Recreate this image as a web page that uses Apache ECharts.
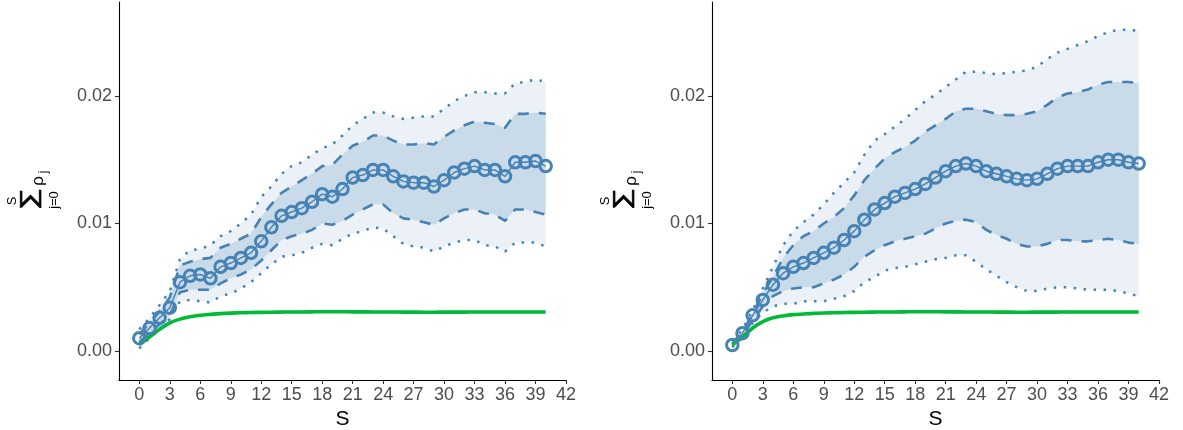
<!DOCTYPE html>
<html>
<head>
<meta charset="utf-8">
<script src="https://cdn.jsdelivr.net/npm/echarts@6/dist/echarts.min.js"></script>
<style>
html,body{margin:0;padding:0;background:#fff;}
#chart{width:1183px;height:430px;}
</style>
</head>
<body>
<div id="chart"></div>
<script>
// ---- data ----
const steps = [0,1,2,3,4,5,6,7,8,9,10,11,12,13,14,15,16,17,18,19,20,21,22,23,24,25,26,27,28,29,30,31,32,33,34,35,36,37,38,39,40];
const xTicks = [0,3,6,9,12,15,18,21,24,27,30,33,36,39,42];
const yTicks = [0,0.01,0.02];

// left panel
const leftMean = [0.0010,0.0018,0.0026,0.0034,0.0054,0.0059,0.0060,0.0057,0.0066,0.0069,0.0073,0.0077,0.0086,0.0097,0.0106,0.0109,0.0112,0.0117,0.0123,0.0121,0.0127,0.0136,0.0138,0.0142,0.0142,0.0137,0.0133,0.0132,0.0132,0.0129,0.0134,0.0140,0.0143,0.0145,0.0142,0.0142,0.0137,0.0148,0.0148,0.0149,0.0145];
const leftOuterHi = [0.0017,0.0026,0.0036,0.0047,0.0072,0.0079,0.0080,0.0083,0.0090,0.0094,0.0100,0.0107,0.0121,0.0129,0.0139,0.0145,0.0148,0.0154,0.0159,0.0162,0.0169,0.0177,0.0182,0.0187,0.0187,0.0184,0.0182,0.0183,0.0184,0.0184,0.0190,0.0196,0.0200,0.0203,0.0203,0.0202,0.0202,0.0210,0.0211,0.0213,0.0211];
const leftInnerHi = [0.0013,0.0022,0.0031,0.0042,0.0067,0.0070,0.0072,0.0073,0.0081,0.0084,0.0088,0.0092,0.0105,0.0115,0.0124,0.0129,0.0134,0.0139,0.0145,0.0146,0.0154,0.0161,0.0164,0.0169,0.0169,0.0165,0.0162,0.0162,0.0163,0.0162,0.0168,0.0173,0.0177,0.0180,0.0179,0.0178,0.0175,0.0186,0.0186,0.0187,0.0186];
const leftInnerLo = [0.0007,0.0014,0.0021,0.0028,0.0046,0.0048,0.0048,0.0048,0.0053,0.0057,0.0060,0.0064,0.0071,0.0079,0.0087,0.0090,0.0092,0.0095,0.0100,0.0099,0.0102,0.0107,0.0111,0.0115,0.0115,0.0108,0.0104,0.0103,0.0101,0.0099,0.0104,0.0108,0.0111,0.0111,0.0108,0.0107,0.0102,0.0111,0.0111,0.0109,0.0107];
const leftOuterLo = [0.0002,0.0010,0.0017,0.0025,0.0039,0.0040,0.0039,0.0038,0.0043,0.0045,0.0049,0.0054,0.0061,0.0068,0.0074,0.0075,0.0077,0.0081,0.0084,0.0083,0.0088,0.0092,0.0094,0.0097,0.0096,0.0090,0.0084,0.0082,0.0081,0.0078,0.0082,0.0085,0.0087,0.0087,0.0083,0.0082,0.0078,0.0085,0.0085,0.0085,0.0082];
const leftGreen = [0.0005,0.0011,0.0017,0.0022,0.0025,0.00268,0.0028,0.00287,0.00293,0.00297,0.0030,0.00302,0.00303,0.00304,0.00305,0.00306,0.00306,0.00307,0.00308,0.00308,0.00308,0.00307,0.00307,0.00306,0.00306,0.00306,0.00305,0.00305,0.00304,0.00304,0.00305,0.00305,0.00305,0.00306,0.00306,0.00306,0.00306,0.00306,0.00306,0.00306,0.00306];

// right panel
const rightMean = [0.00047,0.0014,0.0028,0.0040,0.0052,0.0061,0.0066,0.0069,0.0073,0.0077,0.0081,0.0087,0.0094,0.0103,0.0111,0.0116,0.0121,0.0124,0.0127,0.0131,0.0136,0.0141,0.0145,0.0147,0.0145,0.0141,0.0139,0.0137,0.0135,0.0134,0.0135,0.0139,0.0143,0.0145,0.0145,0.0145,0.0148,0.0150,0.0150,0.0148,0.0147];
const rightOuterHi = [0.0008,0.0017,0.0032,0.0049,0.0066,0.0083,0.0094,0.0101,0.0107,0.0115,0.0124,0.0132,0.0140,0.0154,0.0165,0.0170,0.0176,0.0182,0.0189,0.0196,0.0201,0.0207,0.0213,0.0219,0.0219,0.0218,0.0217,0.0218,0.0219,0.0220,0.0223,0.0229,0.0234,0.0237,0.0240,0.0243,0.0247,0.0250,0.0252,0.0252,0.0251];
const rightInnerHi = [0.0006,0.0015,0.0029,0.0045,0.0058,0.0073,0.0083,0.0090,0.0094,0.0100,0.0105,0.0112,0.0122,0.0134,0.0143,0.0151,0.0156,0.0160,0.0165,0.0172,0.0177,0.0182,0.0188,0.0190,0.0190,0.0188,0.0186,0.0185,0.0185,0.0186,0.0188,0.0193,0.0199,0.0202,0.0203,0.0205,0.0209,0.0211,0.0211,0.0211,0.0210];
const rightInnerLo = [0.0004,0.0012,0.0024,0.0035,0.0043,0.0047,0.0049,0.0050,0.0050,0.0053,0.0056,0.0060,0.0066,0.0074,0.0079,0.0083,0.0086,0.0088,0.0090,0.0092,0.0096,0.0100,0.0102,0.0103,0.0101,0.0095,0.0091,0.0088,0.0084,0.0082,0.0082,0.0084,0.0087,0.0087,0.0086,0.0086,0.0087,0.0088,0.0087,0.0085,0.0084];
const rightOuterLo = [0.0003,0.0010,0.0022,0.0030,0.0035,0.0037,0.0037,0.0039,0.0039,0.0039,0.0041,0.0043,0.0047,0.0054,0.0058,0.0063,0.0065,0.0066,0.0068,0.0070,0.0072,0.0073,0.0075,0.0075,0.0070,0.0064,0.0059,0.0054,0.0050,0.0047,0.0047,0.0049,0.0050,0.0050,0.0049,0.0048,0.0048,0.0048,0.0047,0.0045,0.0043];
const rightGreen = [0.0005,0.0011,0.0018,0.0023,0.0026,0.00275,0.00285,0.0029,0.00295,0.00298,0.0030,0.00302,0.00303,0.00304,0.00305,0.00306,0.00306,0.00307,0.00308,0.00308,0.00308,0.00307,0.00307,0.00306,0.00306,0.00306,0.00305,0.00305,0.00304,0.00304,0.00305,0.00305,0.00305,0.00306,0.00306,0.00306,0.00306,0.00306,0.00306,0.00306,0.00306];

// ---- styling ----
const BLUE = '#4682B4';
const OUTER_FILL = '#EBF1F7';
const INNER_FILL = '#C9DAE8';
const GREEN = '#00BA38';
const FONT = 'Liberation Sans';

function pairs(arr) { return steps.map((s, i) => [s, arr[i]]); }

function bandSeries(idx, lo, hi, fill) {
  return {
    type: 'custom', xAxisIndex: idx, yAxisIndex: idx, silent: true,
    data: steps.map((s, i) => [s, lo[i], hi[i]]),
    encode: { x: 0, y: [1, 2] },
    renderItem: function (params, api) {
      if (params.dataIndex !== 0) return null;
      const top = steps.map((s, i) => api.coord([s, hi[i]]));
      const bot = steps.map((s, i) => api.coord([s, lo[i]])).reverse();
      return { type: 'polygon', shape: { points: top.concat(bot) }, style: { fill: fill, stroke: null } };
    }
  };
}

function panelSeries(idx, mean, oHi, iHi, iLo, oLo, green) {
  const base = { type: 'line', xAxisIndex: idx, yAxisIndex: idx, symbol: 'none', silent: true };
  return [
    bandSeries(idx, oLo, oHi, OUTER_FILL),
    bandSeries(idx, iLo, iHi, INNER_FILL),
    Object.assign({}, base, { data: pairs(oHi), lineStyle: { color: BLUE, width: 2.5, type: [2.5, 7.5] } }),
    Object.assign({}, base, { data: pairs(oLo), lineStyle: { color: BLUE, width: 2.5, type: [2.5, 7.5] } }),
    Object.assign({}, base, { data: pairs(iHi), lineStyle: { color: BLUE, width: 2.6, type: [11, 10] } }),
    Object.assign({}, base, { data: pairs(iLo), lineStyle: { color: BLUE, width: 2.6, type: [11, 10] } }),
    Object.assign({}, base, { data: pairs(mean), symbol: 'circle', symbolSize: 11.5, showSymbol: true,
      lineStyle: { color: BLUE, width: 1.4 },
      itemStyle: { color: 'rgba(0,0,0,0)', borderColor: BLUE, borderWidth: 3 } }),
    Object.assign({}, base, { data: pairs(green), smooth: 0.3, lineStyle: { color: GREEN, width: 3.6 } })
  ];
}

function xAxisCfg(idx) {
  return {
    type: 'value', gridIndex: idx, min: -2, max: 42,
    name: 'S', nameLocation: 'middle', nameGap: 25,
    nameTextStyle: { color: '#000', fontSize: 21, fontFamily: FONT },
    axisLine: { show: true, onZero: false, lineStyle: { color: '#000', width: 1.1 } },
    axisTick: { show: true, length: 4, customValues: xTicks, lineStyle: { color: '#333', width: 1.1 } },
    axisLabel: { customValues: xTicks, color: '#4D4D4D', fontSize: 18, fontFamily: FONT, margin: 6 },
    splitLine: { show: false }
  };
}
function yAxisCfg(idx) {
  return {
    type: 'value', gridIndex: idx, min: -0.002275, max: 0.02737,
    axisLine: { show: true, onZero: false, lineStyle: { color: '#000', width: 1.1 } },
    axisTick: { show: true, length: 4, customValues: yTicks, lineStyle: { color: '#333', width: 1.1 } },
    axisLabel: { customValues: yTicks, color: '#4D4D4D', fontSize: 18, fontFamily: FONT, margin: 7,
      formatter: v => v.toFixed(2) },
    splitLine: { show: false }
  };
}

function yTitle(dx) {
  const R = Math.PI / 2;
  const st = (t, size, bold) => ({ text: t, fill: '#000', font: size + 'px "' + FONT + '"', align: 'center', verticalAlign: 'middle',
    stroke: bold ? '#000' : null, lineWidth: bold ? 0.8 : 0 });
  return [
    { type: 'text', x: 12 + dx, y: 201, rotation: R, style: st('S', 13), silent: true },
    { type: 'text', x: 29.5 + dx, y: 199, rotation: R, scaleX: 1.3, style: st('∑', 23, true), silent: true },
    { type: 'text', x: 54 + dx, y: 200, rotation: R, style: st('j=0', 13), silent: true },
    { type: 'text', x: 38 + dx, y: 181, rotation: R, style: st('ρ', 17), silent: true },
    { type: 'text', x: 44 + dx, y: 172, rotation: R, style: st('j', 12), silent: true }
  ];
}

const chart = echarts.init(document.getElementById('chart'), null, { renderer: 'canvas' });
chart.setOption({
  animation: false,
  backgroundColor: '#fff',
  grid: [
    { left: 119, top: 2, width: 447, height: 378, outerBoundsMode: 'none', containLabel: false },
    { left: 712, top: 2, width: 447, height: 378, outerBoundsMode: 'none', containLabel: false }
  ],
  xAxis: [xAxisCfg(0), xAxisCfg(1)],
  yAxis: [yAxisCfg(0), yAxisCfg(1)],
  series: panelSeries(0, leftMean, leftOuterHi, leftInnerHi, leftInnerLo, leftOuterLo, leftGreen)
    .concat(panelSeries(1, rightMean, rightOuterHi, rightInnerHi, rightInnerLo, rightOuterLo, rightGreen)),
  graphic: yTitle(0).concat(yTitle(593))
});
</script>
</body>
</html>
